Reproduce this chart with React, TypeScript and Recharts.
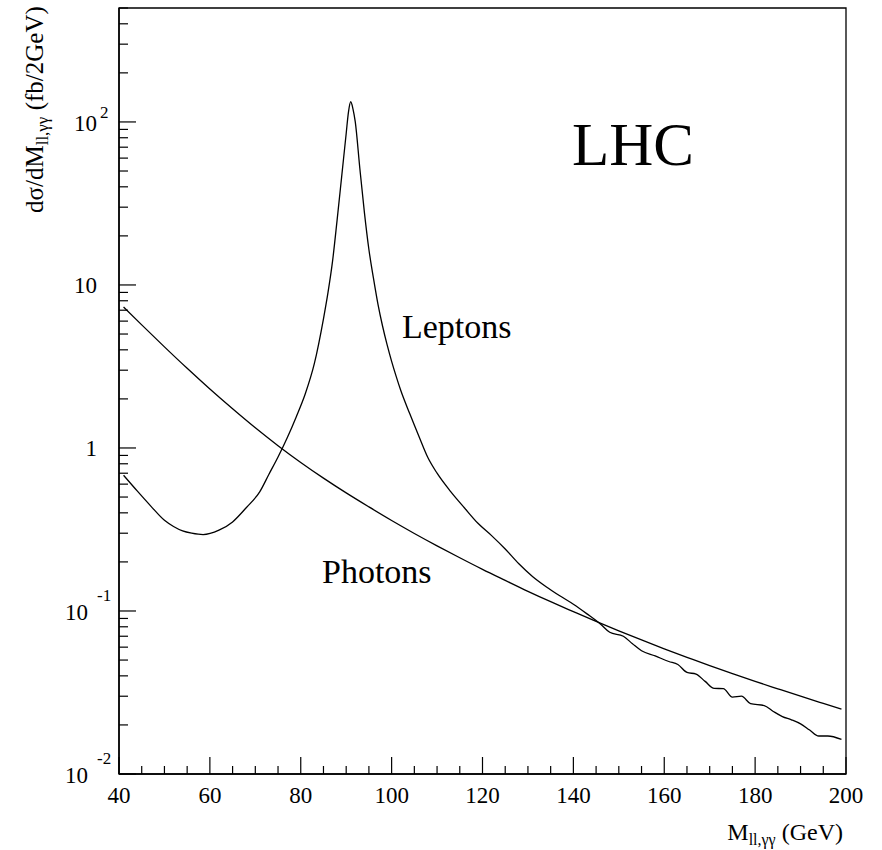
import * as React from 'react'
import { LineChart, Line, XAxis, YAxis, ReferenceArea } from 'recharts'

// mass points (GeV) and cross sections (fb/2GeV)
const photonMass = [41, 45, 50, 55, 60, 65, 70, 75, 80, 85, 90, 95, 100, 105, 110, 115, 120, 125, 130, 135, 140, 145, 150, 155, 160, 165, 170, 175, 180, 185, 190, 195, 199]
const photonXsec = [7.33, 5.69, 4.17, 3.08, 2.3, 1.74, 1.33, 1.033, 0.815, 0.653, 0.53, 0.435, 0.359, 0.299, 0.251, 0.212, 0.18, 0.154, 0.132, 0.114, 0.0991, 0.0863, 0.0755, 0.0664, 0.0586, 0.052, 0.0462, 0.0413, 0.037, 0.0333, 0.03, 0.0271, 0.025]

const leptonMass = [41, 44, 47, 50, 52, 54, 56, 58.5, 62, 65, 68, 71, 73, 75, 77, 79, 81, 83, 85, 86, 87, 88, 89, 90, 90.5, 91, 91.5, 92, 93, 94, 95, 96, 97, 98, 99, 100, 101, 102, 104, 106, 108, 110, 113, 116, 119, 122, 125, 128, 131, 134, 137, 140, 143, 146, 148, 151, 153, 155, 158, 161, 163, 165, 167, 169, 171, 173, 175, 177, 179, 182, 184, 186, 188, 190, 192, 194, 196, 199]
const leptonXsec = [0.68, 0.545, 0.44, 0.36, 0.33, 0.31, 0.3, 0.294, 0.313, 0.352, 0.43, 0.54, 0.69, 0.88, 1.15, 1.55, 2.15, 3.3, 6.2, 9.0, 14.0, 25, 46, 85, 115, 133, 120, 100, 52, 28, 16.5, 11, 7.6, 5.6, 4.3, 3.4, 2.75, 2.26, 1.62, 1.18, 0.87, 0.7, 0.54, 0.43, 0.345, 0.29, 0.24, 0.195, 0.163, 0.141, 0.124, 0.11, 0.096, 0.083, 0.074, 0.07, 0.063, 0.057, 0.053, 0.049, 0.047, 0.042, 0.041, 0.037, 0.0335, 0.0334, 0.0296, 0.03, 0.027, 0.0263, 0.0242, 0.0225, 0.0215, 0.0203, 0.0186, 0.0171, 0.0171, 0.0163]

const xTicks = [40, 45, 50, 55, 60, 65, 70, 75, 80, 85, 90, 95, 100, 105, 110, 115, 120, 125, 130, 135, 140, 145, 150, 155, 160, 165, 170, 175, 180, 185, 190, 195, 200]
const yTicks = [0.01, 0.02, 0.03, 0.04, 0.05, 0.06, 0.07, 0.08, 0.09, 0.1, 0.2, 0.3, 0.4, 0.5, 0.6, 0.7, 0.8, 0.9, 1, 2, 3, 4, 5, 6, 7, 8, 9, 10, 20, 30, 40, 50, 60, 70, 80, 90, 100, 200, 300, 400, 500]

const photons = photonMass.map((m, i) => ({ m, v: photonXsec[i] }))
const leptons = leptonMass.map((m, i) => ({ m, v: leptonXsec[i] }))

const FONT = '"Liberation Serif", "DejaVu Serif", serif'

const XTick = (props: any) => {
  const { x, y, payload } = props
  const major = payload.value % 20 === 0
  return (
    <g>
      <line x1={x} x2={x} y1={y} y2={y - (major ? 17 : 8)} stroke="#000" strokeWidth={1.2} />
      {major && (
        <text x={x} y={y + 29} textAnchor="middle" fontFamily={FONT} fontSize={23} fill="#000">
          {payload.value}
        </text>
      )}
    </g>
  )
}

const decade = (v: number) => {
  const l = Math.log10(v)
  return Math.abs(l - Math.round(l)) < 1e-6 ? Math.round(l) : null
}

const YTick = (props: any) => {
  const { x, y, payload } = props
  const d = decade(payload.value)
  const major = d !== null
  let label: React.ReactNode = null
  if (d === 0 || d === 1) {
    label = (
      <text x={x - 22} y={y + 8} textAnchor="end" fontFamily={FONT} fontSize={23} fill="#000">
        {d === 0 ? '1' : '10'}
      </text>
    )
  } else if (d !== null) {
    const neg = d < 0
    label = (
      <g fontFamily={FONT} fill="#000">
        <text x={x - (neg ? 31 : 22)} y={y + 9} textAnchor="end" fontSize={23}>10</text>
        <text x={x - (neg ? 22 : 19)} y={y + 9 - (neg ? 19 : 13)} textAnchor="start" fontSize={17}>
          {String(d)}
        </text>
      </g>
    )
  }
  return (
    <g>
      <line x1={x} x2={x + (major ? 17 : 9)} y1={y} y2={y} stroke="#000" strokeWidth={1.2} />
      {label}
    </g>
  )
}

export default function App() {
  return (
    <div style={{ position: 'absolute', left: 0, top: 0, width: 882, height: 850, background: '#fff' }}>
      <LineChart
        width={882}
        height={850}
        margin={{ top: 8, right: 36, left: 0, bottom: 0 }}
      >
        <XAxis
          dataKey="m"
          type="number"
          domain={[40, 200]}
          ticks={xTicks}
          interval={0}
          height={76}
          tickSize={0}
          tickMargin={0}
          tickLine={false}
          tick={<XTick />}
          axisLine={{ stroke: '#000', strokeWidth: 1.5 }}
          allowDataOverflow
        />
        <YAxis
          scale="log"
          domain={[0.01, 500]}
          ticks={yTicks}
          interval={0}
          width={119}
          tickSize={0}
          tickMargin={0}
          tickLine={false}
          tick={<YTick />}
          axisLine={{ stroke: '#000', strokeWidth: 1.5 }}
          allowDataOverflow
        />
        <ReferenceArea x1={40} x2={200} y1={0.01} y2={500} fill="none" stroke="#000" strokeWidth={1.3} ifOverflow="visible" />
        <Line data={photons} dataKey="v" type="monotone" stroke="#000" strokeWidth={1.3} dot={false} isAnimationActive={false} />
        <Line data={leptons} dataKey="v" type="monotone" stroke="#000" strokeWidth={1.3} dot={false} isAnimationActive={false} />
      </LineChart>
      <svg width={882} height={850} style={{ position: 'absolute', left: 0, top: 0, pointerEvents: 'none' }}>
        <g fontFamily={FONT} fill="#000">
          <text x={572} y={165} fontSize={61}>LHC</text>
          <text x={402} y={338} fontSize={34}>Leptons</text>
          <text x={322} y={583} fontSize={34}>Photons</text>
          <text transform="translate(43,213) rotate(-90)" fontSize={25}>
            dσ/dM<tspan dy={5} fontSize={17}>ll,γγ</tspan>
            <tspan dy={-5}> (fb/2GeV)</tspan>
          </text>
          <text x={843} y={840} textAnchor="end" fontSize={24}>
            M<tspan dy={5} fontSize={16}>ll,γγ</tspan>
            <tspan dy={-5}> (GeV)</tspan>
          </text>
        </g>
      </svg>
    </div>
  )
}
